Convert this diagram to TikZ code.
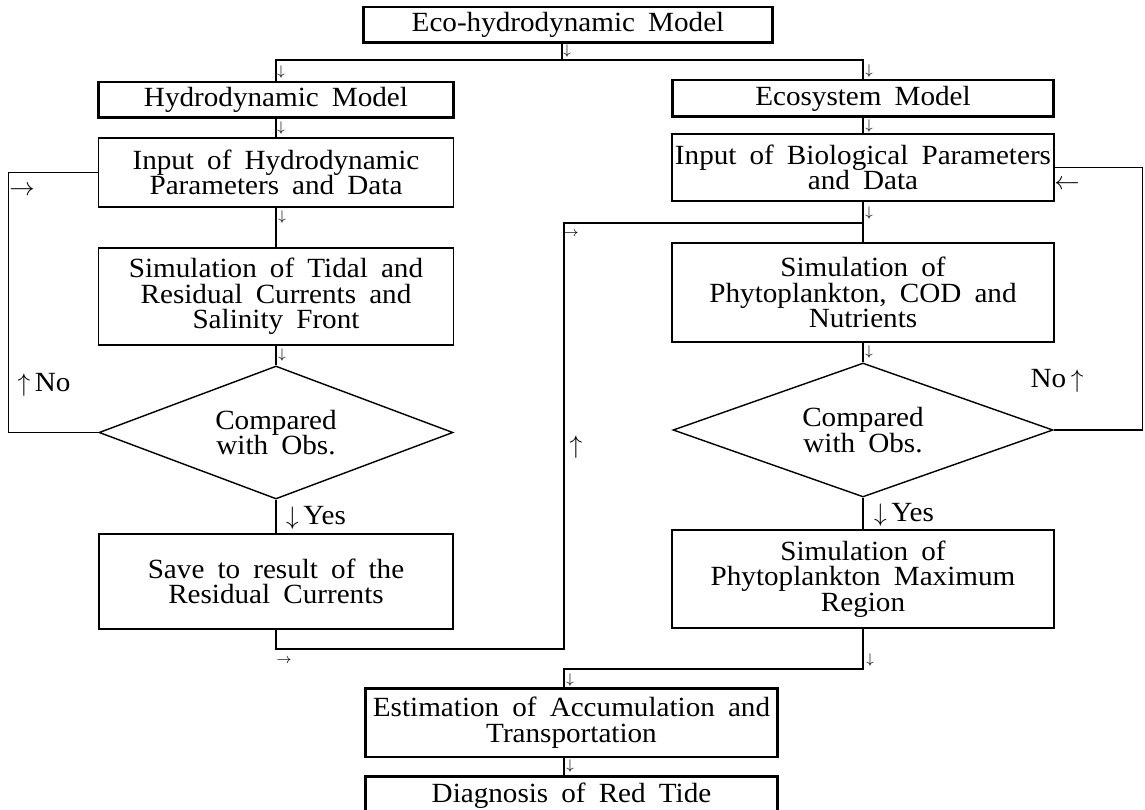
\documentclass[tikz,border=0pt]{standalone}
\usepackage{fontspec}
\setmainfont{Liberation Serif}[FakeStretch=1.05,WordSpace=1.8]
\usetikzlibrary{shapes.geometric}

\begin{document}
\begin{tikzpicture}[x=0.02cm,y=-0.02cm,line width=0.8pt,
  font=\fontsize{15.8}{14.5}\selectfont,
  box/.style={draw,align=center,inner sep=0pt},
  bigbox/.style={box,line width=1.7pt},
  decision/.style={diamond,draw,align=center,inner sep=0pt,shape aspect=2.66},
  arr/.style={font=\fontsize{8}{8}\selectfont,inner sep=0pt},
  lbl/.style={inner sep=0pt}]
\useasboundingbox (0,0) rectangle (1145,810);
\clip (0,0) rectangle (1145,810);

\node[bigbox,minimum width=8.2cm,minimum height=0.72cm] (T) at (568,25) {Eco-hydrodynamic Model};
\node[bigbox,minimum width=7.1cm,minimum height=0.72cm] (H) at (276,100) {Hydrodynamic Model};
\node[bigbox,minimum width=7.64cm,minimum height=0.74cm] (E) at (863,98.5) {Ecosystem Model};
\node[box,minimum width=7.1cm,minimum height=1.38cm] (HI) at (276,172.5) {Input of Hydrodynamic\\Parameters and Data};
\node[box,minimum width=7.64cm,minimum height=1.34cm] (BI) at (863,167.5) {Input of Biological Parameters\\and Data};
\node[box,minimum width=7.1cm,minimum height=1.94cm] (S1) at (276,296.5) {Simulation of Tidal and\\Residual Currents and\\Salinity Front};
\node[box,minimum width=7.64cm,minimum height=1.98cm] (S2) at (863,292.5) {Simulation of\\Phytoplankton, COD and\\Nutrients};
\node[decision,minimum width=7.08cm,minimum height=2.66cm] (D1) at (276,432.5) {Compared\\with Obs.};
\node[decision,minimum width=7.6cm,minimum height=2.68cm] (D2) at (863,430) {Compared\\with Obs.};
\node[box,minimum width=7.08cm,minimum height=1.9cm] (SV) at (276,581.5) {Save to result of the\\Residual Currents};
\node[box,minimum width=7.64cm,minimum height=1.96cm] (PM) at (863,579) {Simulation of\\Phytoplankton Maximum\\Region};
\node[bigbox,minimum width=8.26cm,minimum height=1.38cm] (ES) at (571.5,722.5) {Estimation of Accumulation and\\Transportation};
\node[bigbox,minimum width=8.26cm,minimum height=0.8cm] (DG) at (571.5,796) {Diagnosis of Red Tide};

\coordinate (br) at (562,60);
\coordinate (jn) at (564,223);
\coordinate (sv) at (564,649);
\coordinate (pm) at (564,669);

\draw (T.south -| br) -- (br);
\draw (H.north) |- (br) -| (E.north);
\draw (H) -- (HI);
\draw (HI) -- (S1);
\draw (S1) -- (D1);
\draw (D1) -- (SV);
\draw (E) -- (BI);
\draw (BI) -- (S2);
\draw (S2) -- (D2);
\draw (D2) -- (PM);
\draw (D1.west) -- ++(-90,0) |- (HI.west);
\draw (D2.east) -- ++(89,0) |- (BI.east);
\draw (SV.south) |- (sv) -- (jn) -- (jn -| BI.south);
\draw (PM.south) |- (pm) -- (ES.north -| pm);
\draw (ES.south -| pm) -- (DG.north -| pm);

\node[arr] (a1) at (567,51) {$\downarrow$};
\node[arr] (a2) at (281,72) {$\downarrow$};
\node[arr] (a3) at (869,71) {$\downarrow$};
\node[arr] (a4) at (281,128) {$\downarrow$};
\node[arr] (a5) at (869,126) {$\downarrow$};
\node[arr] (a6) at (282,217) {$\downarrow$};
\node[arr] (a7) at (869,213) {$\downarrow$};
\node[arr] (a8) at (282,355) {$\downarrow$};
\node[arr] (a9) at (869,352) {$\downarrow$};
\node[arr] (a10) at (571,234) {$\rightarrow$};
\node[arr] (a11) at (284,661) {$\rightarrow$};
\node[arr] (a12) at (870,660) {$\downarrow$};
\node[arr] (a13) at (570,680) {$\downarrow$};
\node[arr] (a14) at (570,766) {$\downarrow$};

\node[lbl] (no1) at (44,385) {$\uparrow$\,No};
\node[lbl] (no2) at (1057,381) {No\,$\uparrow$};
\node[lbl] (yes1) at (316,518) {$\downarrow$\,Yes};
\node[lbl] (yes2) at (904,515) {$\downarrow$\,Yes};
\node[lbl] (up) at (576,447) {$\uparrow$};
\node[lbl] (back1) at (22,191) {$\rightarrow$};
\node[lbl] (back2) at (1067,185) {$\leftarrow$};
\end{tikzpicture}
\end{document}
